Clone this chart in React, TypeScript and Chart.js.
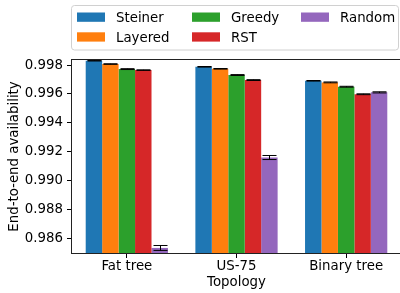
import React, { useEffect, useRef } from 'react';
import { Chart, registerables } from 'chart.js';

Chart.register(...registerables);

const categories = ['Fat tree', 'US-75', 'Binary tree'];
const seriesNames = ['Steiner', 'Layered', 'Greedy', 'RST', 'Random'];

const steiner = [0.9983, 0.99788, 0.99691];
const layered = [0.99807, 0.99774, 0.9968];
const greedy = [0.99772, 0.99731, 0.9965];
const rst = [0.99765, 0.99696, 0.99598];
const random = [0.98534, 0.9916, 0.99611];

const steinerErr = [0.00002, 0.00002, 0.00002];
const layeredErr = [0.00002, 0.00002, 0.00003];
const greedyErr = [0.00003, 0.00003, 0.00003];
const rstErr = [0.00002, 0.00003, 0.00003];
const randomErr = [0.00017, 0.00014, 0.00004];

const yTicks = [0.986, 0.988, 0.99, 0.992, 0.994, 0.996, 0.998];
const yMin = 0.98499;
const yMax = 0.99835;

const colors = ['#1f77b4', '#ff7f0e', '#2ca02c', '#d62728', '#9467bd'];
const values = [steiner, layered, greedy, rst, random];
const errors = [steinerErr, layeredErr, greedyErr, rstErr, randomErr];

const FAMILY = '"DejaVu Sans", sans-serif';
const FS = 13.33;

const extrasPlugin = {
  id: 'extras',
  afterDatasetsDraw(chart: any) {
    const { ctx, chartArea: a, scales } = chart;
    const y = scales.y;
    ctx.save();
    ctx.beginPath();
    ctx.rect(a.left, a.top, a.right - a.left, a.bottom - a.top);
    ctx.clip();
    ctx.strokeStyle = '#000';
    ctx.lineWidth = 1;
    chart.data.datasets.forEach((ds: any, i: number) => {
      const meta = chart.getDatasetMeta(i);
      meta.data.forEach((el: any, j: number) => {
        const v = ds.data[j];
        const e = ds.errors[j];
        const x = Math.round(el.x) + 0.5;
        const y1 = y.getPixelForValue(v + e);
        const y2 = y.getPixelForValue(v - e);
        ctx.beginPath();
        ctx.moveTo(x, y1);
        ctx.lineTo(x, y2);
        ctx.moveTo(x - 7, y1);
        ctx.lineTo(x + 7, y1);
        ctx.moveTo(x - 7, y2);
        ctx.lineTo(x + 7, y2);
        ctx.stroke();
      });
    });
    ctx.restore();
  },
  afterDraw(chart: any) {
    const { ctx, chartArea: a } = chart;
    ctx.save();
    // axes frame
    ctx.strokeStyle = '#222';
    ctx.lineWidth = 1;
    ctx.strokeRect(Math.round(a.left) - 0.5, Math.round(a.top) - 0.5, Math.round(a.right - a.left) + 1, Math.round(a.bottom - a.top) + 1);
    // legend
    const lx = 71.5, ly = 5.5, lw = 327, lh = 44.5, r = 3;
    ctx.beginPath();
    ctx.moveTo(lx + r, ly);
    ctx.arcTo(lx + lw, ly, lx + lw, ly + lh, r);
    ctx.arcTo(lx + lw, ly + lh, lx, ly + lh, r);
    ctx.arcTo(lx, ly + lh, lx, ly, r);
    ctx.arcTo(lx, ly, lx + lw, ly, r);
    ctx.closePath();
    ctx.fillStyle = 'rgba(255,255,255,0.8)';
    ctx.fill();
    ctx.strokeStyle = '#d0d0d0';
    ctx.stroke();
    const colX = [77, 192, 301];
    const patchTop = [12.5, 32.3];
    const baseY = [21.7, 41.5];
    ctx.font = `${FS}px ${FAMILY}`;
    ctx.textBaseline = 'alphabetic';
    ctx.textAlign = 'left';
    chart.data.datasets.forEach((ds: any, i: number) => {
      const col = Math.floor(i / 2);
      const row = i % 2;
      ctx.fillStyle = ds.backgroundColor;
      ctx.fillRect(colX[col], patchTop[row], 28, 9.3);
      ctx.fillStyle = '#000';
      ctx.fillText(ds.label, colX[col] + 39, baseY[row]);
    });
    ctx.restore();
  },
};

export default function App() {
  const ref = useRef<HTMLCanvasElement | null>(null);
  useEffect(() => {
    if (!ref.current) return;
    const font = { family: FAMILY, size: FS };
    const chart = new Chart(ref.current, {
      type: 'bar',
      data: {
        labels: categories,
        datasets: seriesNames.map((n, i) => ({
          label: n,
          data: values[i],
          errors: errors[i],
          backgroundColor: colors[i],
          borderWidth: 0,
          base: yMin,
          categoryPercentage: 0.75,
          barPercentage: 1.0,
          clip: 0,
        })) as any,
      },
      options: {
        responsive: false,
        animation: false,
        devicePixelRatio: 1,
        events: [],
        layout: { padding: { top: 60, right: 9, left: 0, bottom: 0 } },
        plugins: { legend: { display: false }, tooltip: { enabled: false } },
        scales: {
          x: {
            grid: { display: true, drawOnChartArea: false, drawTicks: true, tickLength: 5, color: '#000', offset: false },
            border: { display: false },
            ticks: { font, color: '#000', padding: 1, maxRotation: 0, autoSkip: false },
            title: { display: true, text: 'Topology', font, color: '#000', padding: { top: 0, bottom: 2 } },
            afterFit: (s: any) => { s.height = 40; },
          },
          y: {
            min: yMin,
            max: yMax,
            afterBuildTicks: (s: any) => { s.ticks = yTicks.map((v) => ({ value: v })); },
            grid: { display: true, drawOnChartArea: false, drawTicks: true, tickLength: 5, color: '#000' },
            border: { display: false },
            ticks: { font, color: '#000', padding: 4, callback: (v: any) => Number(v).toFixed(3) },
            title: { display: true, text: 'End-to-end availability', font, color: '#000', padding: { top: 7, bottom: 0 } },
            afterFit: (s: any) => { s.width = 72; },
          },
        },
      } as any,
      plugins: [extrasPlugin],
    });
    return () => chart.destroy();
  }, []);
  return (
    <div style={{ position: 'absolute', left: 0, top: 0, width: 400, height: 293, overflow: 'hidden', background: '#fff' }}>
      <canvas ref={ref} width={410} height={293} style={{ display: 'block', width: 410, height: 293 }} />
    </div>
  );
}
